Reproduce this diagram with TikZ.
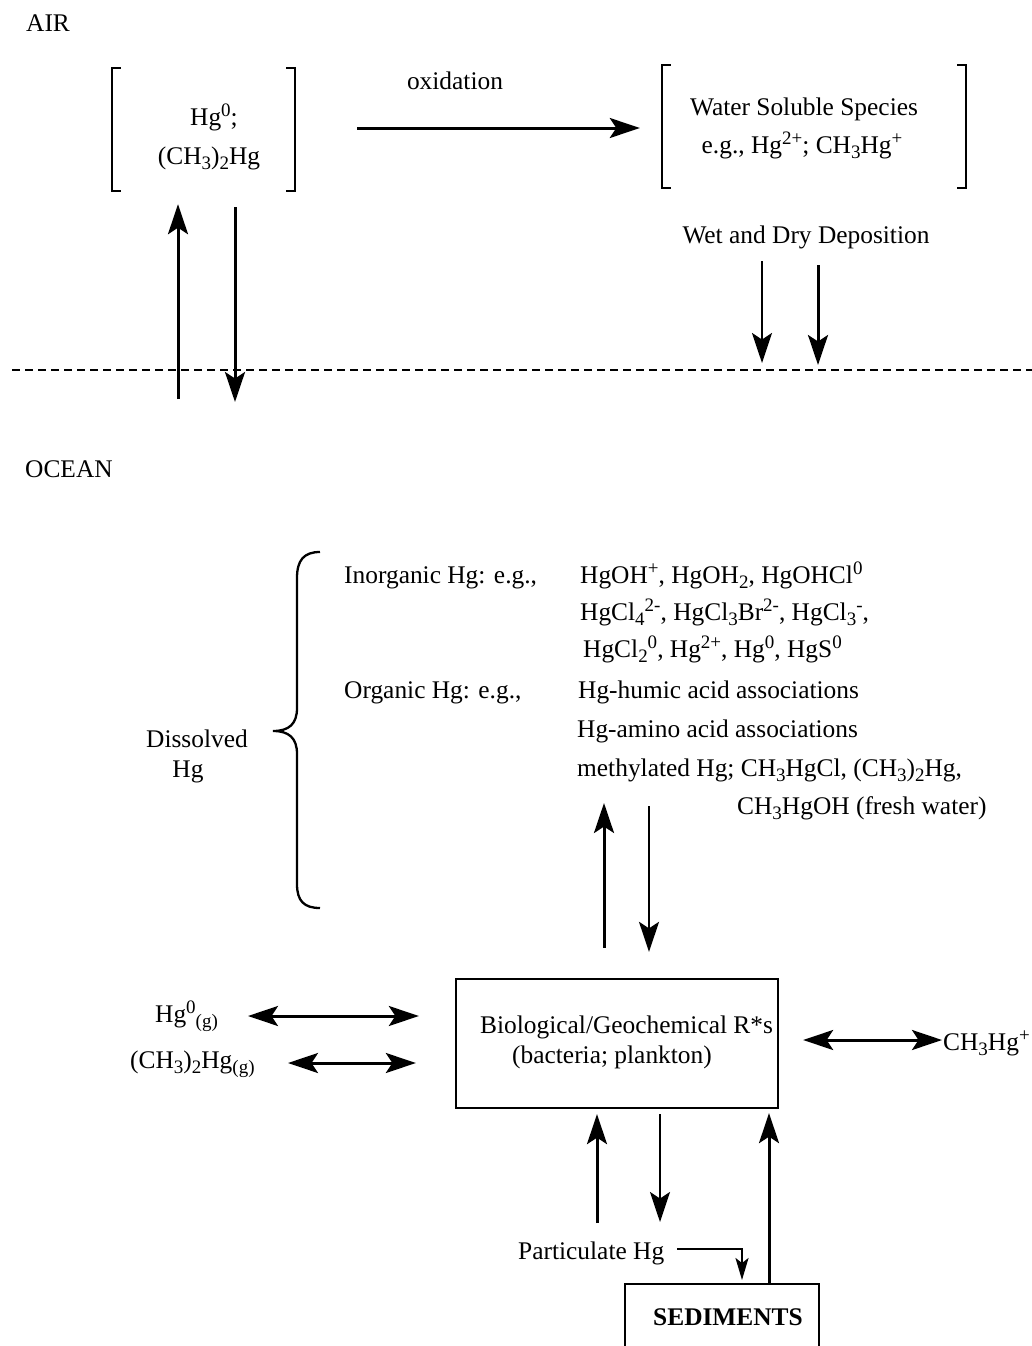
\documentclass[tikz,border=0pt]{standalone}
\usepackage{fontspec}
\setmainfont{Liberation Serif}
\usetikzlibrary{arrows.meta}
\newcommand\up[1]{\raisebox{8.5pt}{\fontsize{19}{19}\selectfont #1}}
\newcommand\dn[1]{\raisebox{-5pt}{\fontsize{19}{19}\selectfont #1}}
\tikzset{
  bigtip/.tip={Stealth[length=30pt,width=20pt,inset=6.5pt]},
  smalltip/.tip={Stealth[length=22pt,width=13pt,inset=5pt]},
  txt/.style={inner sep=0pt, font=\fontsize{25.4}{30}\selectfont},
  arr/.style={line width=3pt, -bigtip},
  arrthin/.style={line width=2.2pt, -bigtip},
  dbl/.style={line width=3pt, bigtip-bigtip},
  smallarr/.style={line width=2.2pt, -smalltip},
  boxline/.style={line width=2.3pt},
  brk/.style={line width=2.3pt},
  surface/.style={line width=1.6pt, dash pattern=on 8pt off 5pt},
  holder/.style={inner sep=0pt, draw=none}
}
\begin{document}
\begin{tikzpicture}[x=1pt,y=-1pt]
\useasboundingbox (0,0) rectangle (1032,1346);

% ---------- AIR ----------
\node[txt, anchor=base west] (air) at (26,32) {AIR};
\node[txt, anchor=base] (oxid) at (455,89) {oxidation};

\node[holder, minimum width=183pt, minimum height=123pt] (grpA) at (203.5,129.5) {};
\draw[brk] ([xshift=9pt]grpA.north west) -- (grpA.north west) -- (grpA.south west) -- ([xshift=9pt]grpA.south west);
\draw[brk] ([xshift=-9pt]grpA.north east) -- (grpA.north east) -- (grpA.south east) -- ([xshift=-9pt]grpA.south east);
\node[txt, anchor=base] (hgzero) at (214,125) {Hg\up{0};};
\node[txt, anchor=base] (dmhg) at (209,164) {(CH\dn{3})\dn{2}Hg};

\node[holder, minimum width=304pt, minimum height=123pt] (grpB) at (814,126.5) {};
\draw[brk] ([xshift=9pt]grpB.north west) -- (grpB.north west) -- (grpB.south west) -- ([xshift=9pt]grpB.south west);
\draw[brk] ([xshift=-9pt]grpB.north east) -- (grpB.north east) -- (grpB.south east) -- ([xshift=-9pt]grpB.south east);
\node[txt, anchor=base] (wss) at (804,115) {Water Soluble Species};
\node[txt, anchor=base] (wsseg) at (802,153) {e.g., Hg\up{2+}; CH\dn{3}Hg\up{+}};

\coordinate (oxA) at (0,128);
\draw[arr, shorten <=62pt, shorten >=22pt] (grpA.east |- oxA) -- (grpB.west |- oxA);

\node[txt, anchor=base] (dep) at (806,243) {Wet and Dry Deposition};

% surface
\coordinate (surfL) at (12,370);
\coordinate (surfR) at (1032,370);
\draw[surface] (surfL) -- (surfR);

\coordinate (d1) at (762,363);
\coordinate (d2) at (818,365);
\coordinate (d1s) at (762,261);
\coordinate (d2s) at (818,265);
\draw[arrthin] (d1s) -- (d1);
\draw[arr] (d2s) -- (d2);

\coordinate (evapBot) at (178,399);
\draw[arr, shorten >=13pt] (evapBot) -- (evapBot |- grpA.south);
\coordinate (depBot) at (235,402);
\draw[arr, shorten <=16pt] (depBot |- grpA.south) -- (depBot);

% ---------- OCEAN ----------
\node[txt, anchor=base west] (ocean) at (25,477) {OCEAN};

% brace
\coordinate (brTop) at (320,552);
\coordinate (brMid) at (273,731);
\coordinate (brBot) at (320,908);
\draw[brk] (brTop) .. controls (304,552) and (297,560) .. (297,578)
  -- (297,708) .. controls (297,724) and (289,731) .. (brMid)
  .. controls (289,731) and (297,738) .. (297,754)
  -- (297,884) .. controls (297,901) and (304,908) .. (brBot);

\node[txt, anchor=base] (diss) at (197,747) {Dissolved};
\node[txt, anchor=base] (disshg) at (188,777) {Hg};

\node[txt, anchor=base west] (inorg) at (344,583) {Inorganic Hg: e.g.,};
\node[txt, anchor=base west] (in1) at (580,583) {HgOH\up{+}, HgOH\dn{2}, HgOHCl\up{0}};
\node[txt, anchor=base west] (in2) at (580,620) {HgCl\dn{4}\up{2-}, HgCl\dn{3}Br\up{2-}, HgCl\dn{3}\up{-},};
\node[txt, anchor=base west] (in3) at (583,657) {HgCl\dn{2}\up{0}, Hg\up{2+}, Hg\up{0}, HgS\up{0}};
\node[txt, anchor=base west] (org) at (344,698) {Organic Hg: e.g.,};
\node[txt, anchor=base west] (or1) at (578,698) {Hg-humic acid associations};
\node[txt, anchor=base west] (or2) at (577,737) {Hg-amino acid associations};
\node[txt, anchor=base west] (or3) at (577,776) {methylated Hg; CH\dn{3}HgCl, (CH\dn{3})\dn{2}Hg,};
\node[txt, anchor=base west] (or4) at (737,814) {CH\dn{3}HgOH (fresh water)};

% central box
\node[holder, draw, boxline, minimum width=322pt, minimum height=129pt] (bio) at (617,1043.5) {};
\node[txt, anchor=base west] (bioA) at (480,1033) {Biological/Geochemical R*s};
\node[txt, anchor=base west] (bioB) at (512,1063) {(bacteria; plankton)};

\coordinate (dissUp) at (604,803);
\draw[arr, shorten <=30pt] (bio.north -| dissUp) -- (dissUp);
\coordinate (dissDn) at (649,806);
\draw[arrthin, shorten >=26pt] (dissDn) -- (bio.north -| dissDn);

% left gas species
\node[txt, anchor=base west] (hgg) at (155,1022) {Hg\up{0}\dn{(g)}};
\node[txt, anchor=base west] (dmg) at (130,1068) {(CH\dn{3})\dn{2}Hg\dn{(g)}};
\coordinate (hgA) at (248,1016);
\draw[dbl, shorten >=36pt] (hgA) -- (hgA -| bio.west);
\coordinate (dmA) at (288,1063);
\draw[dbl, shorten >=39pt] (dmA) -- (dmA -| bio.west);

% right
\node[txt, anchor=base west] (mehg) at (943,1050) {CH\dn{3}Hg\up{+}};
\coordinate (mhR) at (942,1040);
\draw[dbl, shorten <=24pt] (mhR -| bio.east) -- (mhR);

% particulate & sediments
\node[txt, anchor=base west] (part) at (518,1259) {Particulate Hg};
\coordinate (pUp) at (597,1223);
\draw[arr, shorten >=5pt] (pUp) -- (pUp |- bio.south);
\coordinate (pDn) at (660,1222);
\draw[arrthin, shorten <=5pt] (pDn |- bio.south) -- (pDn);

\node[holder, minimum width=194pt, minimum height=62pt] (sed) at (722,1315) {};
\draw[boxline] (sed.south west) -- (sed.north west) -- (sed.north east) -- (sed.south east);
\node[txt, font=\fontsize{25.4}{30}\selectfont\bfseries, anchor=base] (sedT) at (728,1325) {SEDIMENTS};

\coordinate (pS) at (677,1249);
\coordinate (pE) at (742,1284);
\draw[smallarr, shorten >=4pt] (pS) -| (pE);

\coordinate (sU) at (769,1284);
\draw[arr, shorten >=4pt] (sU) -- (sU |- bio.south);
\end{tikzpicture}
\end{document}
